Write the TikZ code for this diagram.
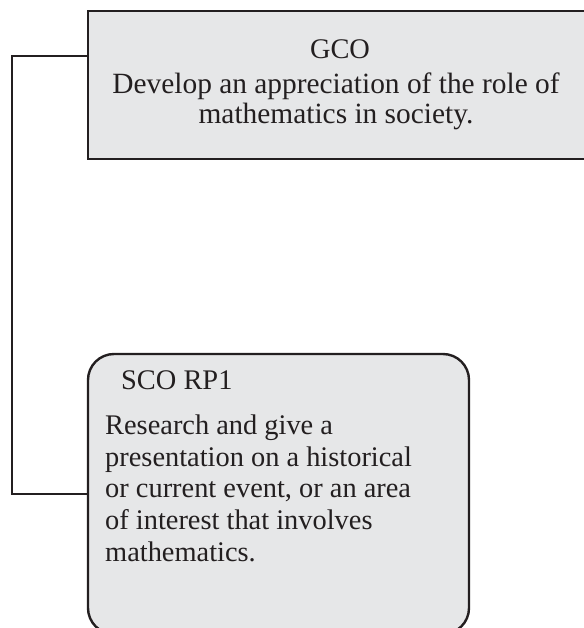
\documentclass[tikz,border=0pt]{standalone}
\usepackage{fontspec}
\setmainfont{Liberation Serif}
\definecolor{ink}{HTML}{231F20}
\definecolor{boxfill}{HTML}{E6E7E8}
\tikzset{
  outcome/.style={draw=ink, fill=boxfill, line width=2.4bp, inner sep=0pt},
  link/.style={draw=ink, line width=2.4bp},
  label/.style={text=ink, inner sep=0pt, font=\fontsize{28.5}{31.75}\selectfont},
}
\begin{document}
\begin{tikzpicture}[x=1bp,y=-1bp]
  \useasboundingbox (0,0) rectangle (584,628);
  % general outcome box (runs off the right edge)
  \node[outcome, rectangle, minimum width=504bp, minimum height=148bp] (gco) at (340,85) {};
  % specific outcome box (runs off the bottom edge)
  \node[outcome, rectangle, rounded corners=26bp, minimum width=381bp, minimum height=280bp] (sco) at (278.5,494) {};

  % multi-line nodes sit on the baseline of their last line
  \node[label, anchor=base] (gcotitle) at (340,59) {GCO};
  \node[label, anchor=base, align=center, font=\fontsize{29.5}{31}\selectfont] (gcotext) at (336,124)
    {Develop an appreciation of the role of\\mathematics in society.};

  \node[label, anchor=base west] (scotitle) at (121,389) {SCO RP1};
  \node[label, anchor=base west, align=left] (scotext) at (105,561)
    {Research and give a\\presentation on a historical\\or current event, or an area\\of interest that involves\\mathematics.};

  % bracket linking the two outcomes
  \path (gco.north west) ++(0,46) coordinate (gcoport);
  \draw[link] (gcoport) -- ++(-74.5,0) |- (sco.west);
\end{tikzpicture}
\end{document}
